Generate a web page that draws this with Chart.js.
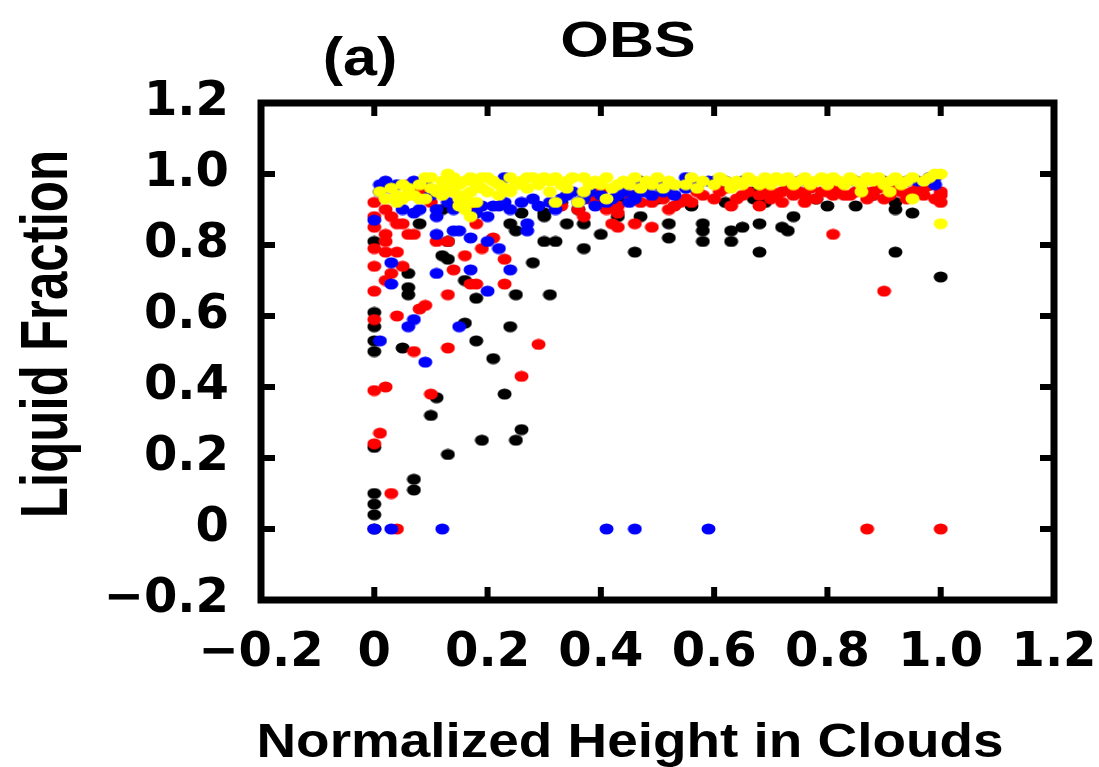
<!DOCTYPE html>
<html lang="en">
<head>
<meta charset="UTF-8">
<title>OBS — Liquid Fraction vs Normalized Height</title>
<script src="https://cdn.jsdelivr.net/npm/chart.js"></script>
<style>
  html, body { margin: 0; padding: 0; background: #fff; }
  #wrap { width: 1099px; height: 767px; }
</style>
</head>
<body>
<div id="wrap"><canvas id="obsChart" width="1099" height="767"></canvas></div>
<script>
  // tick labels
  const xTickLabels = ['−0.2', '0', '0.2', '0.4', '0.6', '0.8', '1.0', '1.2'];
  const yTickLabels = ['−0.2', '0', '0.2', '0.4', '0.6', '0.8', '1.0', '1.2'];

  // [normalized height, liquid fraction]
  const blackPts = [
    [0,0.81],[0,0.61],[0,0.57],[0,0.53],[0,0.50],[0,0.23],[0,0.10],[0,0.07],[0,0.04],[0,0],
    [0.06,0.68],[0.06,0.66],[0.06,0.72],[0.18,0.65],[0.25,0.66],[0.31,0.66],[0.16,0.58],[0.24,0.57],
    [0.05,0.51],[0.18,0.53],[0.21,0.48],[0.11,0.37],[0.23,0.38],[0.10,0.32],[0.19,0.25],[0.26,0.28],
    [0.25,0.25],[0.13,0.21],[0.07,0.14],[0.07,0.11],
    [0.08,0.86],[0.12,0.90],[0.13,0.81],[0.12,0.77],[0.13,0.76],[0.16,0.70],[0.26,0.89],[0.24,0.86],
    [0.25,0.84],[0.30,0.89],[0.30,0.81],[0.28,0.75],[0.30,0.88],[0.34,0.86],[0.37,0.86],[0.43,0.88],
    [0.40,0.83],[0.32,0.81],[0.37,0.79],[0.46,0.78],[0.47,0.88],[0.52,0.86],[0.52,0.82],[0.56,0.91],
    [0.58,0.86],[0.58,0.84],[0.58,0.81],[0.63,0.84],[0.65,0.85],[0.63,0.81],[0.68,0.86],[0.68,0.78],
    [0.72,0.85],[0.73,0.84],[0.74,0.88],[0.80,0.91],[0.85,0.91],[0.92,0.92],[0.92,0.90],[0.95,0.89],
    [0.92,0.78],[1.00,0.71],[0.43,0.93],[0.50,0.93],[0.62,0.92],[0.67,0.93],[0.69,0.92],[0.67,0.95],
    [0.70,0.95],[0.78,0.93],[0.88,0.94],[0.98,0.97],[0.36,0.90],[0.33,0.92]
  ];
  const redPts = [
    [0,0.92],[0,0.88],[0,0.85],[0.02,0.90],[0.03,0.88],[0.04,0.86],[0.02,0.83],[0.05,0.86],[0.06,0.83],
    [0.07,0.83],[0.02,0.81],[0,0.79],[0.02,0.78],[0.04,0.78],[0,0.74],[0.05,0.74],[0.02,0.70],[0.03,0.72],
    [0,0.67],[0,0.59],[0.04,0.60],[0.08,0.62],[0.09,0.63],[0.07,0.50],
    [0.11,0.81],[0.13,0.81],[0.16,0.77],[0.14,0.73],[0.17,0.69],[0.19,0.79],[0.21,0.82],[0.23,0.76],
    [0.23,0.69],[0.13,0.66],[0.18,0.69],[0.13,0.51],[0.29,0.52],[0.26,0.43],[0,0.39],[0.02,0.40],
    [0.10,0.38],[0.01,0.27],[0,0.24],[0.03,0.10],
    [0.17,0.90],[0.18,0.86],[0.10,0.92],[0.11,0.95],[0.06,0.97],[0.08,0.95],[0.37,0.88],[0.43,0.91],
    [0.43,0.89],[0.42,0.86],[0.43,0.85],[0.46,0.86],[0.49,0.85],[0.49,0.92],[0.52,0.90],[0.53,0.91],
    [0.54,0.92],[0.60,0.93],[0.63,0.91],[0.56,0.92],[0.68,0.91],[0.72,0.92],[0.76,0.92],[0.81,0.83],
    [0.85,0.95],[0.88,0.95],[0.90,0.67],[1.00,0.92],[1.00,0.94],[1.00,0.95],
    [0.57,0.95],[0.65,0.94],[0.70,0.95],[0.74,0.94],[0.79,0.95],[0.83,0.94],[0.92,0.96],[0.95,0.95],
    [0.97,0.96],[0.62,0.96],[0.45,0.94],[0.38,0.93],[0.40,0.95],[0.68,0.94],[0.72,0.95],[0.76,0.94],
    [0.80,0.95],[0.84,0.94],[0.88,0.94],[0.93,0.95],[0.97,0.94],[0.70,0.93],[0.78,0.93],[0.90,0.93],
    [0.33,0.91],[0.36,0.90],[0.39,0.92],[0.41,0.90],[0.47,0.92],[0.51,0.93],[0.55,0.93],[0.58,0.94],
    [0.61,0.95],[0.64,0.93],[0.66,0.95],[0.69,0.96],[0.71,0.94],[0.73,0.96],[0.75,0.95],[0.77,0.96],
    [0.81,0.94],[0.82,0.96],[0.86,0.96],[0.87,0.93],[0.89,0.96],[0.91,0.94],[0.94,0.93],[0.96,0.96],
    [0.99,0.93],[0.98,0.97],
    [0.04,0],[0.87,0],[1.00,0]
  ];
  const bluePts = [
    [0.03,0.96],[0.07,0.98],[0,0.87],[0.05,0.90],[0.07,0.89],[0.08,0.90],[0.11,0.88],[0.11,0.90],
    [0.14,0.84],[0.11,0.83],[0.15,0.84],[0.17,0.82],[0.20,0.88],[0.20,0.81],[0.22,0.79],[0.21,0.91],
    [0.23,0.99],[0.23,0.92],[0.24,0.90],[0.27,0.84],[0.27,0.86],[0.29,0.91],[0.31,0.92],[0.32,0.90],
    [0.39,0.91],[0.46,0.93],[0.46,0.94],
    [0.03,0.75],[0.03,0.69],[0.17,0.73],[0.20,0.67],[0.11,0.72],[0.07,0.59],[0.06,0.57],[0.15,0.57],
    [0.01,0.53],[0.09,0.47],[0.24,0.73],
    [0.34,0.94],[0.36,0.92],[0.40,0.94],[0.42,0.93],[0.44,0.95],[0.48,0.95],[0.50,0.97],[0.52,0.96],
    [0.47,0.98],[0.55,0.99],[0.60,0.98],[0.70,0.98],[0.80,0.98],[0.90,0.98],[0.98,0.99],[0.99,0.97],
    [0.96,0.98],[0.02,0.98],[0.01,0.95],
    [0.33,0.93],[0.35,0.95],[0.37,0.93],[0.38,0.95],[0.41,0.92],[0.43,0.94],[0.45,0.92],[0.47,0.95],
    [0.49,0.94],[0.51,0.95],[0.53,0.94],[0.55,0.96],[0.57,0.97],[0.59,0.98],[0.62,0.98],[0.65,0.98],
    [0.75,0.98],[0.85,0.98],[0.94,0.98],[0.99,0.99],[0.10,0.94],[0.13,0.92],[0.16,0.92],[0.19,0.91],
    [0.22,0.91],[0.26,0.92],[0.28,0.93],[0.14,0.90],[0.18,0.89],[0.04,0.97],[0.09,0.98],[0.01,0.97],
    [0,0],[0.03,0],[0.12,0],[0.41,0],[0.46,0],[0.59,0]
  ];
  const yellowPts = [
    [0.02,0.93],[0.05,0.93],[0.05,0.97],[0.07,0.94],[0.09,0.93],[0.09,0.99],[0.11,0.95],[0.12,0.98],
    [0.12,0.96],[0.14,0.99],[0.14,0.95],[0.15,0.93],[0.16,0.90],[0.17,0.88],[0.17,0.95],[0.17,0.99],
    [0.18,0.92],[0.19,0.99],[0.20,0.95],[0.22,0.94],[0.24,0.99],[0.24,0.95],[0.26,0.98],[0.28,0.99],
    [0.31,0.98],[0.32,0.92],[0.36,0.92],[0.41,0.93],[0.04,0.94],[0.01,0.95],
    [0.13,0.97],[0.15,0.97],[0.16,0.98],[0.19,0.96],[0.21,0.98],[0.23,0.96],[0.27,0.96],[0.29,0.97],
    [0.06,0.96],[0.10,0.96],
    [0.33,0.97],[0.35,0.99],[0.38,0.97],[0.41,0.99],[0.43,0.97],[0.46,0.99],[0.49,0.97],[0.50,0.99],
    [0.53,0.97],[0.56,0.99],[0.58,0.98],[0.61,0.99],[0.64,0.98],[0.66,0.99],[0.68,0.97],
    [0.71,0.99],[0.73,0.99],[0.76,0.99],[0.79,0.99],[0.81,0.99],[0.84,0.99],[0.87,0.99],[0.89,0.99],
    [0.92,0.99],[0.95,0.99],[1.00,1.00],[0.86,0.95],[0.91,0.95],[0.95,0.93],[1.00,0.86],
    [0.31,0.95],[0.34,0.96],[0.37,0.95],[0.39,0.98],[0.42,0.96],[0.44,0.98],[0.47,0.96],[0.48,0.98],
    [0.51,0.96],[0.52,0.98],[0.55,0.97],[0.57,0.96],[0.60,0.97],[0.62,0.98],[0.63,0.96],[0.65,0.97],
    [0.67,0.98],[0.69,0.99],[0.70,0.97],[0.72,0.98],[0.74,0.97],[0.75,0.98],[0.77,0.97],[0.78,0.98],
    [0.80,0.97],[0.82,0.98],[0.83,0.97],[0.85,0.98],[0.86,0.97],[0.88,0.98],[0.90,0.97],[0.91,0.98],
    [0.93,0.97],[0.94,0.98],[0.97,0.98],[0.98,0.99],[0.99,1.00],[0.03,0.96],[0.08,0.97],[0.10,0.99],
    [0.13,1.00],[0.18,0.97],[0.20,0.99],[0.22,0.97],[0.25,0.97],[0.27,0.99],[0.30,0.99],[0.32,0.99],
    [0.34,0.98],[0.37,0.99],[0.40,0.97],[0.45,0.97],[0.15,0.91],[0.17,0.92],[0.16,0.94],[0.04,0.92],
    [0.08,0.93],[0.12,0.94],[0.06,0.94]
  ];

  // dots in the picture are slightly wider than tall
  function makeDot(color) {
    const c = document.createElement('canvas');
    c.width = 15; c.height = 12;
    const g = c.getContext('2d');
    g.fillStyle = color;
    g.beginPath();
    g.ellipse(7.5, 6, 7, 5.5, 0, 0, Math.PI * 2);
    g.fill();
    return c;
  }

  function series(pts, color) {
    return {
      data: pts.map(p => ({ x: p[0], y: p[1] })),
      pointStyle: makeDot(color),
      pointRadius: 7,
      backgroundColor: color,
      borderWidth: 0,
      showLine: false
    };
  }

  function drawText(ctx, str, x, y, font, sx, sy, rot) {
    ctx.save();
    ctx.translate(x, y);
    if (rot) ctx.rotate(rot);
    ctx.scale(sx, sy);
    ctx.font = font;
    ctx.fillStyle = '#000';
    ctx.textAlign = 'center';
    ctx.textBaseline = 'alphabetic';
    ctx.fillText(str, 0, 0);
    ctx.restore();
  }

  // box frame, inward ticks on all four sides, titles
  const framePlugin = {
    id: 'frame',
    afterDraw(chart) {
      const { ctx, chartArea: a, scales } = chart;
      ctx.save();
      ctx.strokeStyle = '#000';
      ctx.lineWidth = 6;
      ctx.beginPath();
      scales.x.ticks.forEach(t => {
        const px = scales.x.getPixelForValue(t.value);
        ctx.moveTo(px, a.bottom); ctx.lineTo(px, a.bottom - 13);
        ctx.moveTo(px, a.top); ctx.lineTo(px, a.top + 13);
      });
      scales.y.ticks.forEach(t => {
        const py = scales.y.getPixelForValue(t.value);
        ctx.moveTo(a.left, py); ctx.lineTo(a.left + 14, py);
        ctx.moveTo(a.right, py); ctx.lineTo(a.right - 14, py);
      });
      ctx.stroke();
      ctx.lineWidth = 7;
      ctx.strokeRect(a.left, a.top, a.right - a.left, a.bottom - a.top);
      ctx.restore();

      drawText(ctx, 'OBS', 628, 57, 'bold 50px "Liberation Sans"', 1.25, 1);
      drawText(ctx, '(a)', 360, 75, 'bold 53px "Liberation Sans"', 1.15, 1);
      drawText(ctx, 'Normalized Height in Clouds', 630, 757, 'bold 49px "Liberation Sans"', 1.12, 1);
      drawText(ctx, 'Liquid Fraction', 67, 334, 'bold 51px "Liberation Sans"', 1, 1.3, -Math.PI / 2);
    }
  };

  const tickFont = { family: 'DejaVu Sans', weight: 'bold', size: 48 };

  new Chart(document.getElementById('obsChart'), {
    type: 'scatter',
    data: {
      // first dataset is painted last (on top)
      datasets: [
        series(yellowPts, '#ffff00'),
        series(bluePts, '#0000ff'),
        series(redPts, '#ff0000'),
        series(blackPts, '#000000')
      ]
    },
    options: {
      responsive: false,
      animation: false,
      events: [],
      layout: { padding: { left: 0, top: 103, right: 45, bottom: 0 } },
      plugins: { legend: { display: false }, tooltip: { enabled: false }, title: { display: false } },
      scales: {
        x: {
          type: 'linear', min: -0.2, max: 1.2,
          grid: { display: false }, border: { display: false },
          ticks: {
            stepSize: 0.2, autoSkip: false, maxRotation: 0, minRotation: 0,
            padding: 17, color: '#000', font: tickFont,
            callback: (v, i) => xTickLabels[i]
          },
          afterFit: s => { s.height = 167; s.paddingLeft = 0; s.paddingRight = 0; }
        },
        y: {
          type: 'linear', min: -0.2, max: 1.2,
          grid: { display: false }, border: { display: false },
          ticks: {
            stepSize: 0.2, autoSkip: false,
            padding: 24, color: '#000', font: tickFont,
            callback: (v, i) => yTickLabels[i]
          },
          afterFit: s => { s.width = 261; s.paddingTop = 0; s.paddingBottom = 0; }
        }
      }
    },
    plugins: [framePlugin]
  });
</script>
</body>
</html>
